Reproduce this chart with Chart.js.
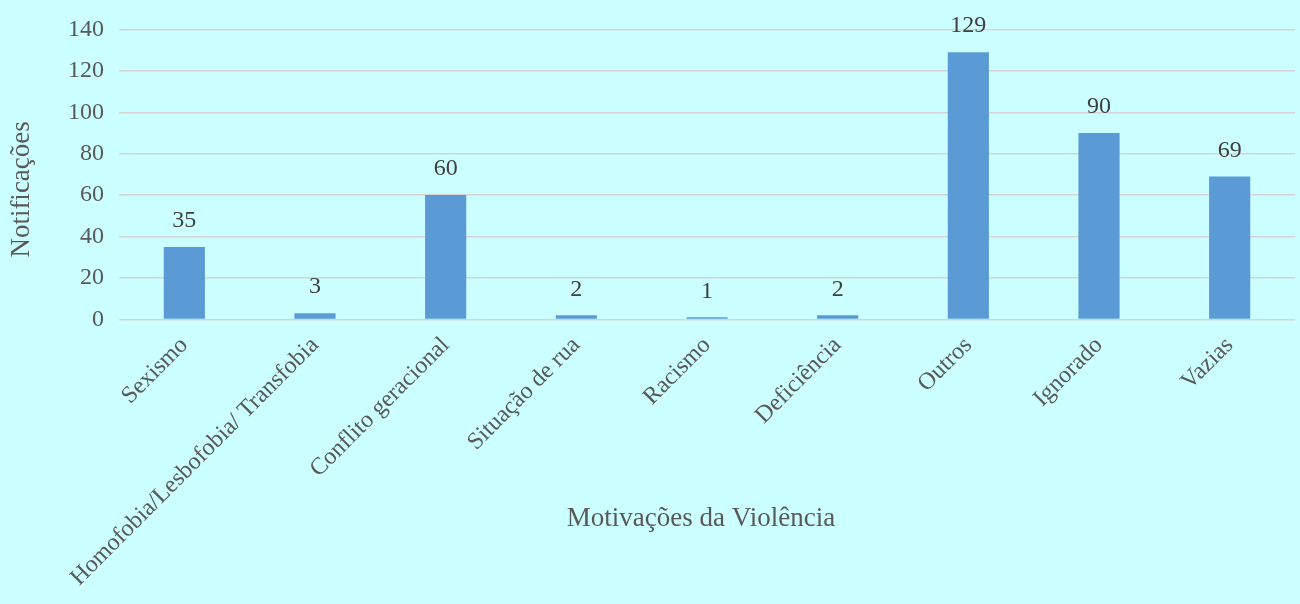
<!DOCTYPE html>
<html>
<head>
<meta charset="utf-8">
<script src="https://cdn.jsdelivr.net/npm/chart.js@4"></script>
<style>
  body { margin: 0; background: #ccffff; }
  #wrap { width: 1300px; height: 604px; }
</style>
</head>
<body>
<div id="wrap"><canvas id="chart"></canvas></div>
<script>
// Motivações da Violência - notificações
const categories = ['Sexismo', 'Homofobia/Lesbofobia/ Transfobia', 'Conflito geracional', 'Situação de rua', 'Racismo', 'Deficiência', 'Outros', 'Ignorado', 'Vazias'];
const notificacoes = [35, 3, 60, 2, 1, 2, 129, 90, 69];
const yTicks = [0, 20, 40, 60, 80, 100, 120, 140];

const serif = "'Liberation Serif', 'Times New Roman', serif";

// value labels above the bars
const valueLabels = {
    id: 'valueLabels',
    afterDatasetsDraw(chart) {
        const ctx = chart.ctx;
        const meta = chart.getDatasetMeta(0);
        ctx.save();
        ctx.font = '24px ' + serif;
        ctx.fillStyle = '#404040';
        ctx.textAlign = 'center';
        ctx.textBaseline = 'bottom';
        meta.data.forEach((bar, i) => {
            ctx.fillText(String(notificacoes[i]), bar.x, bar.y - 14);
        });
        ctx.restore();
    }
};

// axis titles placed like the original (x title sits between the rotated labels)
const axisTitles = {
    id: 'axisTitles',
    afterDraw(chart) {
        const ctx = chart.ctx;
        const area = chart.chartArea;
        ctx.save();
        ctx.font = '27px ' + serif;
        ctx.fillStyle = '#595959';
        ctx.textAlign = 'center';
        ctx.textBaseline = 'middle';
        ctx.fillText('Motivações da Violência', 701, area.bottom + 199);
        ctx.translate(22, area.top + 160);
        ctx.rotate(-Math.PI / 2);
        ctx.fillText('Notificações', 0, 0);
        ctx.restore();
    }
};

new Chart(document.getElementById('chart'), {
    type: 'bar',
    data: {
        labels: categories,
        datasets: [{
            data: notificacoes,
            backgroundColor: '#5b9bd5',
            categoryPercentage: 1,
            barPercentage: 0.315
        }]
    },
    options: {
        responsive: true,
        maintainAspectRatio: false,
        animation: false,
        layout: { padding: { top: 12, right: 5, left: 53, bottom: 8 } },
        plugins: {
            legend: { display: false },
            tooltip: { enabled: false }
        },
        scales: {
            x: {
                grid: { display: false },
                border: { display: false },
                ticks: {
                    minRotation: 45,
                    maxRotation: 45,
                    color: '#595959',
                    font: { family: serif, size: 24 },
                    padding: 4
                }
            },
            y: {
                min: 0,
                max: 140,
                afterBuildTicks(axis) {
                    axis.ticks = yTicks.map(v => ({ value: v }));
                },
                grid: { color: '#d4d4d4', lineWidth: 1.5, drawTicks: false },
                border: { display: false },
                ticks: {
                    color: '#595959',
                    font: { family: serif, size: 24 },
                    padding: 15
                }
            }
        }
    },
    plugins: [valueLabels, axisTitles]
});
</script>
</body>
</html>
